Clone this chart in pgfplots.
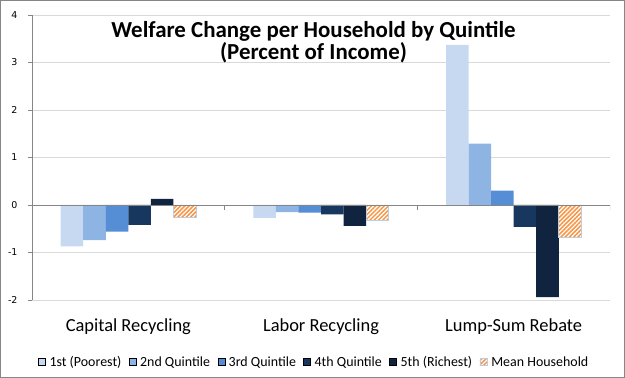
\documentclass[border=0pt]{standalone}
\usepackage{pgfplots}
\pgfplotsset{compat=1.18}
\usetikzlibrary{patterns.meta}
\usepackage{fontspec}
\setmainfont{Carlito}
\newfontfamily\dejavu{DejaVu Sans}
\definecolor{qa}{HTML}{C6D9F1}
\definecolor{qb}{HTML}{8EB4E3}
\definecolor{qc}{HTML}{558ED5}
\definecolor{qd}{HTML}{17375E}
\definecolor{qe}{HTML}{10243F}
\definecolor{mh}{HTML}{F79646}
\definecolor{mhb}{HTML}{B9CDE5}
\definecolor{axgray}{HTML}{868686}
\definecolor{gridc}{HTML}{D9D9D9}
\begin{document}
\begin{tikzpicture}
\useasboundingbox (0,0) rectangle (625bp,378bp);
\draw[axgray, line width=1bp] (0.5bp,0.5bp) rectangle (624.5bp,377.5bp);
\begin{axis}[
  at={(32bp,78bp)}, anchor=south west,
  scale only axis, width=578bp, height=285bp,
  xmin=-0.5, xmax=2.5, ymin=-2, ymax=4,
  ybar=0pt, bar width=0.117,
  separate axis lines,
  axis y line*=left, axis x line*=bottom,
  x axis line style={draw=none},
  y axis line style={axgray, line width=0.8bp},
  xtick={0,1,2},
  xticklabels={Capital Recycling, Labor Recycling, Lump-Sum Rebate},
  xmajorgrids=false, xminorgrids=false,
  xtick style={draw=none},
  xticklabel style={anchor=base, yshift=-27bp, font=\fontsize{18.5}{20}\selectfont},
  ytick={-2,-1,0,1,2,3,4},
  tick align=outside,
  ytick style={axgray, line width=0.8bp},
  major tick length=4bp,
  ymajorgrids, grid style={gridc, line width=0.8bp},
  /pgf/number format/assume math mode=true,
  yticklabel style={font=\dejavu\fontsize{9.5}{10}\selectfont, xshift=-7bp},
  title={Welfare Change per Household by Quintile\\(Percent of Income)},
  title style={at={(0.487,0.957)}, anchor=north, align=center, inner sep=0pt,
    font=\fontsize{23}{22}\selectfont\bfseries},
  legend columns=6,
  legend style={draw=none, fill=none, at={(0.488,-0.2175)}, anchor=center,
    font=\fontsize{14}{15}\selectfont,
    /tikz/every even column/.append style={column sep=6bp},
    inner sep=0pt, nodes={inner xsep=1.5bp}},
  legend image code/.code={\draw[#1] (0bp,-3.5bp) rectangle (7bp,3.5bp); \path (9.5bp,0bp);},
]
\addplot[fill=qa, draw=none] coordinates {(0,-0.87) (1,-0.27) (2,3.37)};
\addplot[fill=qb, draw=none] coordinates {(0,-0.74) (1,-0.15) (2,1.29)};
\addplot[fill=qc, draw=none] coordinates {(0,-0.56) (1,-0.16) (2,0.30)};
\addplot[fill=qd, draw=none] coordinates {(0,-0.42) (1,-0.20) (2,-0.46)};
\addplot[fill=qe, draw=none] coordinates {(0,0.13) (1,-0.44) (2,-1.94)};
\addplot[draw=mhb, line width=0.6bp, pattern={Lines[angle=45,distance=3bp,line width=1.5bp]}, pattern color=mh] coordinates {(0,-0.25) (1,-0.32) (2,-0.68)};
\legend{1st (Poorest), 2nd Quintile, 3rd Quintile, 4th Quintile, 5th (Richest), Mean Household}
\draw[axgray, line width=0.8bp] (axis cs:-0.5,0) -- (axis cs:2.5,0);
\draw[axgray, line width=0.8bp] (axis cs:0.5,0) -- ([yshift=-5bp]axis cs:0.5,0);
\draw[axgray, line width=0.8bp] (axis cs:1.5,0) -- ([yshift=-5bp]axis cs:1.5,0);
\draw[axgray, line width=0.8bp] (axis cs:2.5,0) -- ([yshift=-5bp]axis cs:2.5,0);
\end{axis}
\end{tikzpicture}
\end{document}
